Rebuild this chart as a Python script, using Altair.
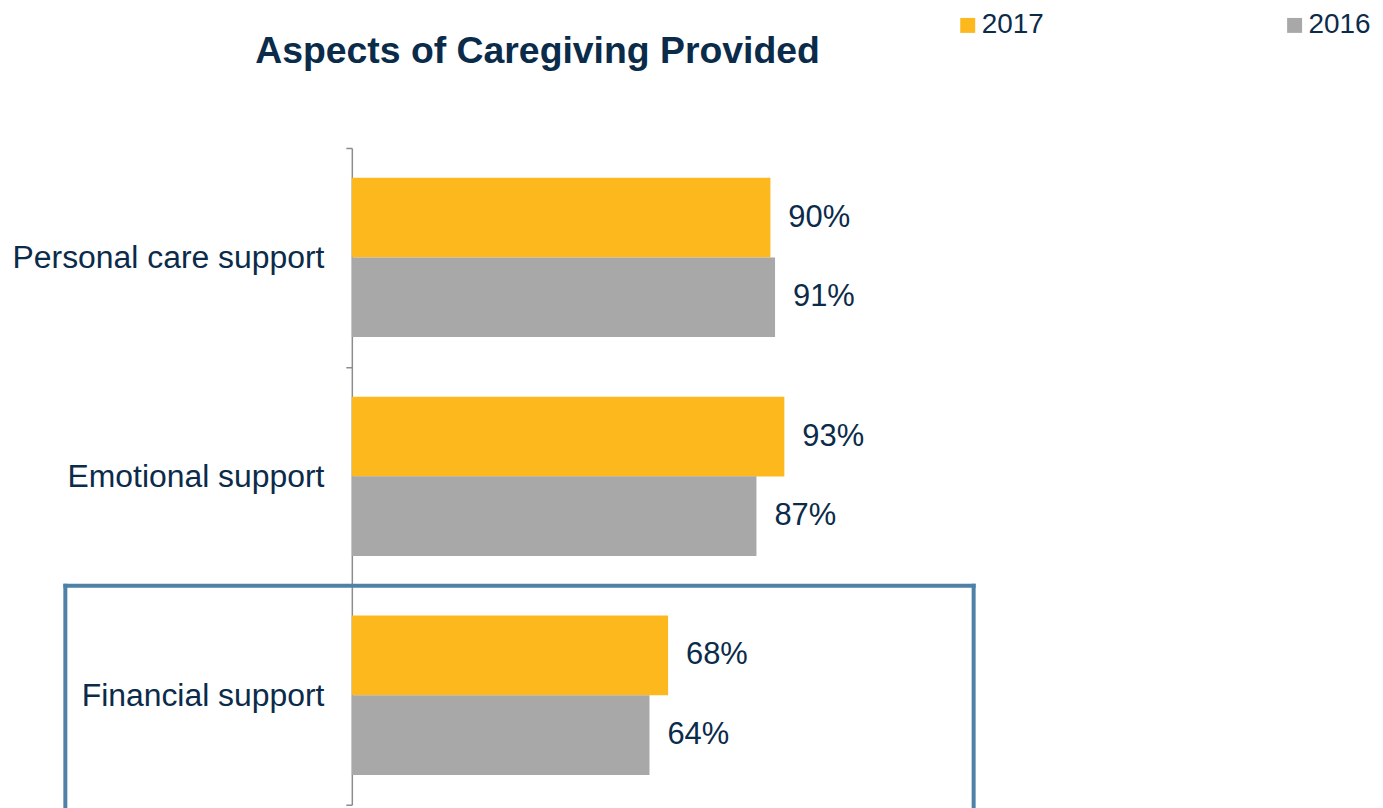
import altair as alt
import pandas as pd

categories = ["Personal care support", "Emotional support", "Financial support"]
years = ["2017", "2016"]
values_2017 = [90, 93, 68]
values_2016 = [91, 87, 64]
highlight_category = "Financial support"
highlight_x = [-61.6, 133.7]

FONT = "Liberation Sans"
NAVY = "#0b2b4a"
ORANGE = "#FDB81E"
GREY = "#A8A8A8"
BOX = "#4E81A8"

rows = []
for c, v17, v16 in zip(categories, values_2017, values_2016):
    rows.append({"cat": c, "year": "2017", "value": v17})
    rows.append({"cat": c, "year": "2016", "value": v16})
df = pd.DataFrame(rows)
df["label"] = df["value"].astype(str) + "%"

yscale = alt.Scale(domain=categories, paddingInner=0, paddingOuter=0)
yoff = alt.YOffset("year:N", scale=alt.Scale(domain=years, paddingOuter=0.375, paddingInner=0))
xscale = alt.Scale(domain=[0, 100], nice=False, zero=True)

bars = alt.Chart(df).mark_bar(size=80).encode(
    x=alt.X("value:Q", scale=xscale, axis=None),
    y=alt.Y("cat:N", scale=yscale, title=None,
            axis=alt.Axis(labelFontSize=32, labelFont=FONT, labelColor=NAVY,
                          labelPadding=22, tickSize=6, tickColor="#8c8c8c",
                          tickWidth=1.5, domainColor="#8c8c8c", domainWidth=1.5,
                          tickBand="extent", labelLimit=0, grid=False)),
    yOffset=yoff,
    color=alt.Color("year:N", scale=alt.Scale(domain=years, range=[ORANGE, GREY]),
                    legend=alt.Legend(title=None, orient="none", direction="horizontal",
                                      columns=2, legendX=604, legendY=-137,
                                      symbolType="square", symbolSize=225,
                                      symbolStrokeWidth=0, labelFontSize=28,
                                      labelFont=FONT, labelColor=NAVY,
                                      labelOffset=0, columnPadding=237, padding=0)),
)

text = alt.Chart(df).mark_text(align="left", baseline="middle", dx=18,
                               fontSize=31, font=FONT, color=NAVY).encode(
    x=alt.X("value:Q", scale=xscale),
    y=alt.Y("cat:N", scale=yscale),
    yOffset=yoff,
    text="label:N",
)

box_df = pd.DataFrame({"cat": [highlight_category], "x1": [highlight_x[0]], "x2": [highlight_x[1]]})

top_rule = alt.Chart(box_df).mark_rule(color=BOX, strokeWidth=4, strokeCap="square", clip=False).encode(
    x=alt.X("x1:Q", scale=xscale),
    x2="x2:Q",
    y=alt.Y("cat:N", scale=yscale, bandPosition=0),
)
left_rule = alt.Chart(box_df).mark_rule(color=BOX, strokeWidth=4, strokeCap="square", clip=False).encode(
    x=alt.X("x1:Q", scale=xscale),
    y=alt.Y("cat:N", scale=yscale, bandPosition=0),
    y2=alt.value({"expr": "height + 40"}),
)
right_rule = alt.Chart(box_df).mark_rule(color=BOX, strokeWidth=4, strokeCap="square", clip=False).encode(
    x=alt.X("x2:Q", scale=xscale),
    y=alt.Y("cat:N", scale=yscale, bandPosition=0),
    y2=alt.value({"expr": "height + 40"}),
)

chart = alt.layer(bars, text, top_rule, left_rule, right_rule).properties(
    width=466.67,
    height=659,
    title=alt.Title("Aspects of Caregiving Provided", fontSize=37.5, font=FONT,
                    fontWeight="bold", color=NAVY, anchor="middle", frame="group",
                    dx=-47, offset=-89, baseline="alphabetic"),
    autosize=alt.AutoSizeParams(type="none"),
    padding={"left": 345, "top": 139, "right": 560, "bottom": 60},
    background="white",
).configure_view(stroke=None)

chart.save("out.html", embed_options={"renderer": "svg", "actions": False})
